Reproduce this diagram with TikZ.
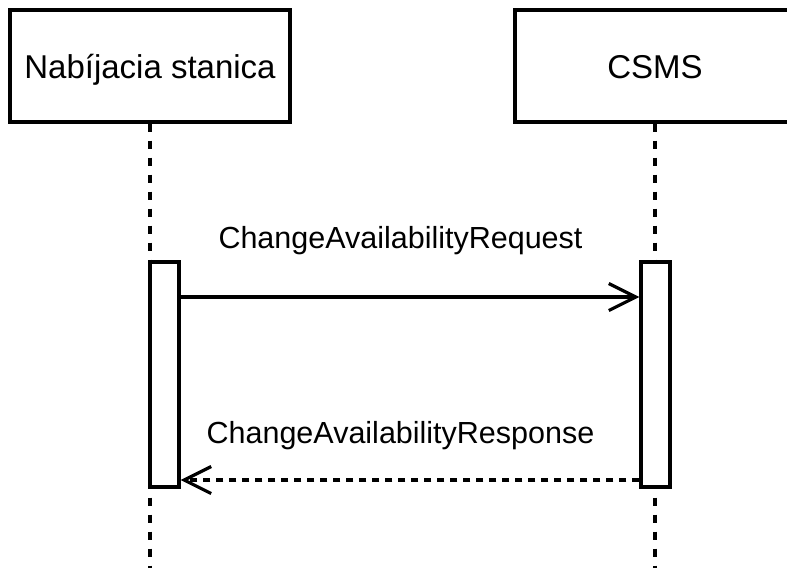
\documentclass[tikz,border=0pt]{standalone}
\usepackage{fontspec}
\setmainfont{Liberation Sans}
\usetikzlibrary{arrows.meta, positioning}

\tikzset{
    participant/.style={draw, rectangle, line width=3.2pt, fill=white, minimum width=280pt, minimum height=112pt,
        text height=24pt, text depth=0pt, font=\fontsize{33}{38}\selectfont},
    lifeline/.style={line width=3.2pt, dash pattern=on 8pt off 9pt},
    activation/.style={draw, rectangle, line width=3.2pt, fill=white, minimum width=29pt, minimum height=225pt, inner sep=0pt},
    msg/.style={line width=3.2pt, -{Straight Barb[length=27pt, width=27pt]}},
    reply/.style={msg, dash pattern=on 7pt off 6pt},
    msglabel/.style={anchor=base, inner sep=0pt, font=\fontsize{30.5}{36}\selectfont}
}

\begin{document}
\begin{tikzpicture}[x=1pt, y=-1pt]
        \useasboundingbox (0,0) rectangle (787,568);
        \clip (0,0) rectangle (787,568);
        % participants
        \node[participant] (station) at (150,66) {Nabíjacia stanica};
        \node[participant] (csms) at (655,66) {CSMS};
        \coordinate (stationend) at (150,568);
        \coordinate (csmsend) at (655,568);
        \draw[lifeline] (station.south) -- (stationend);
        \draw[lifeline] (csms.south) -- (csmsend);
        % activation bars
        \node[activation] (stationbar) at (164.5,374.5) {};
        \node[activation] (csmsbar) at (655.5,374.5) {};
        % messages
        \coordinate (reqy) at (0,297);
        \coordinate (resy) at (0,480);
        \draw[msg] (stationbar.east |- reqy) -- (csmsbar.west |- reqy);
        \draw[reply] (csmsbar.west |- resy) -- (stationbar.east |- resy);
        \node[msglabel] (reqlabel) at (400.5,248) {ChangeAvailabilityRequest};
        \node[msglabel] (reslabel) at (400.5,443) {ChangeAvailabilityResponse};
    \end{tikzpicture}
\end{document}
